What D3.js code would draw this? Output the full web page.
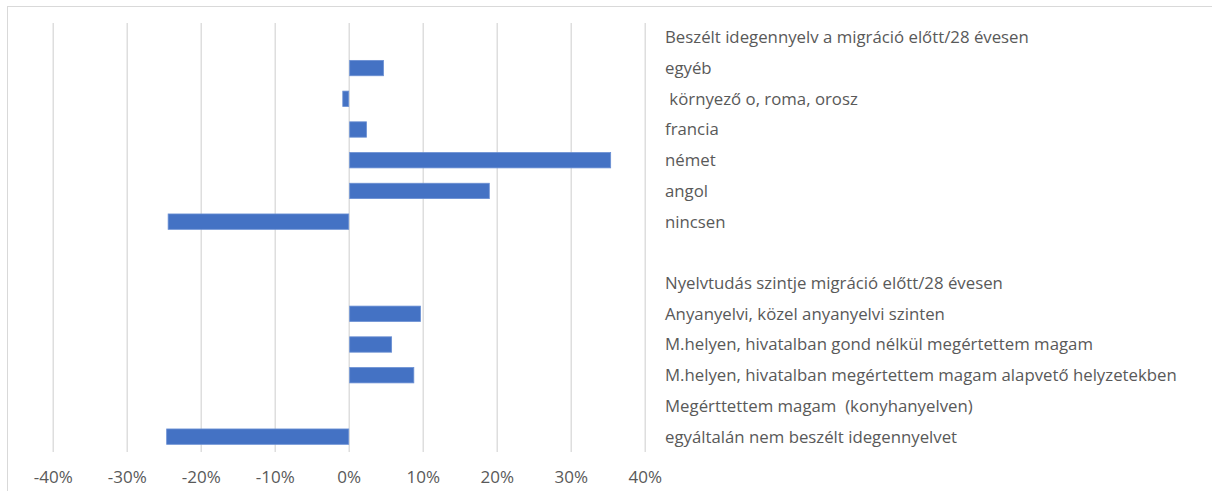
<!DOCTYPE html>
<html>
<head>
<meta charset="utf-8">
<script src="https://cdn.jsdelivr.net/npm/d3@7"></script>
<style>
  body { margin: 0; background: #fff; }
  svg { display: block; font-family: "Open Sans", "Noto Sans", sans-serif; }
</style>
</head>
<body>
<svg id="chart" width="1212" height="491"></svg>
<script>
// Row labels, top to bottom (header rows and the spacer carry no bar)
const categories = [
  'Beszélt idegennyelv a migráció előtt/28 évesen',
  'egyéb',
  ' környező o, roma, orosz',
  'francia',
  'német',
  'angol',
  'nincsen',
  '',
  'Nyelvtudás szintje migráció előtt/28 évesen',
  'Anyanyelvi, közel anyanyelvi szinten',
  'M.helyen, hivatalban gond nélkül megértettem magam',
  'M.helyen, hivatalban megértettem magam alapvető helyzetekben',
  'Megérttettem magam  (konyhanyelven)',
  'egyáltalán nem beszélt idegennyelvet'
];
const values = [null, 0.047, -0.008, 0.024, 0.354, 0.19, -0.244, null, null, 0.097, 0.058, 0.088, 0, -0.246];
const tickValues = [-0.4, -0.3, -0.2, -0.1, 0, 0.1, 0.2, 0.3, 0.4];

const svg = d3.select('#chart');
const textColour = '#595959';

// Chart frame (only top and left edges fall inside the picture)
svg.append('rect')
  .attr('x', 7.5).attr('y', 6.5)
  .attr('width', 1300).attr('height', 600)
  .attr('fill', 'none')
  .attr('stroke', '#d9d9d9');

const x = d3.scaleLinear().domain([-0.4, 0.4]).range([52.7, 644.7]);
const y = d3.scaleBand().domain(d3.range(categories.length)).range([22, 452]).paddingInner(0.5).paddingOuter(0.25);

// Gridlines
svg.append('g')
  .attr('transform', 'translate(0,452)')
  .call(d3.axisBottom(x).tickValues(tickValues).tickSize(-(452 - 23)).tickFormat(''))
  .call(g => g.select('.domain').remove())
  .call(g => g.selectAll('line').attr('stroke', '#d9d9d9').attr('stroke-width', 1.3));

// Bars
svg.append('g')
  .selectAll('rect')
  .data(values.map((v, i) => ({ v, i })).filter(d => d.v !== null && d.v !== 0))
  .join('rect')
  .attr('x', d => Math.min(x(0), x(d.v)) + (d.v > 0 ? 1 : 0))
  .attr('y', d => y(d.i))
  .attr('width', d => Math.abs(x(d.v) - x(0)) - (d.v > 0 ? 1 : 0))
  .attr('height', y.bandwidth())
  .attr('fill', '#4472c4')
  .attr('stroke', '#6a8fd3')
  .attr('stroke-width', 0.8);

// Axis labels (plain hyphen as in the original)
const fmtPct = v => d3.format('.0%')(v).replace('\u2212', '-');
svg.append('g')
  .attr('transform', 'translate(0,452)')
  .call(d3.axisBottom(x).tickValues(tickValues).tickSize(0).tickPadding(19).tickFormat(fmtPct))
  .call(g => g.select('.domain').remove())
  .call(g => g.selectAll('text')
    .attr('fill', textColour)
    .style('font-size', '17px')
    .style('font-family', '"Open Sans", "Noto Sans", sans-serif'));

// Category labels on the right
svg.append('g')
  .selectAll('text')
  .data(categories)
  .join('text')
  .attr('x', 665)
  .attr('y', (d, i) => y(i) + y.bandwidth() / 2)
  .attr('dy', '0.35em')
  .attr('fill', textColour)
  .style('font-size', '16.8px')
  .style('white-space', 'pre')
  .attr('xml:space', 'preserve')
  .text(d => d);
</script>
</body>
</html>
